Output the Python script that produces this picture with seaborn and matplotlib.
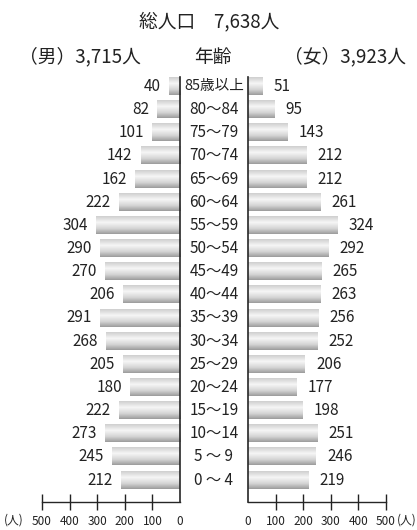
import matplotlib
matplotlib.use("Agg")
import matplotlib.pyplot as plt
import numpy as np
import pandas as pd
import seaborn as sns
from matplotlib.colors import LinearSegmentedColormap

ages = ["85歳以上", "80～84", "75～79", "70～74", "65～69", "60～64", "55～59",
        "50～54", "45～49", "40～44", "35～39", "30～34", "25～29", "20～24",
        "15～19", "10～14", "5 ～ 9", "0 ～ 4"]
male = [40, 82, 101, 142, 162, 222, 304, 290, 270, 206, 291, 268, 205, 180, 222, 273, 245, 212]
female = [51, 95, 143, 212, 212, 261, 324, 292, 265, 263, 256, 252, 206, 177, 198, 251, 246, 219]
ticks = [0, 100, 200, 300, 400, 500]

sns.set_style("white")
plt.rcParams["font.family"] = ["Noto Sans CJK JP", "DejaVu Sans"]

df = pd.DataFrame({"age": ages, "male": male, "female": female})

W, H = 417, 530
fig = plt.figure(figsize=(W / 100, H / 100), dpi=100)

top_px, bot_px = 77, 502
ylim = (17.95, -0.41)


def rect(x0, x1):
    return [x0 / W, 1 - bot_px / H, (x1 - x0) / W, (bot_px - top_px) / H]


ax_l = fig.add_axes(rect(42, 180))
ax_c = fig.add_axes(rect(180, 248))
ax_r = fig.add_axes(rect(248, 386))

grad = LinearSegmentedColormap.from_list(
    "bar", [(0, "#cfcfcf"), (0.35, "#f6f6f6"), (0.7, "#d4d4d4"), (1, "#9c9c9c")])
grad_img = np.linspace(0, 1, 64).reshape(-1, 1)


def draw_side(ax, col, inverted):
    sns.barplot(data=df, y="age", x=col, orient="h", width=0.74, ax=ax,
                color="#dddddd", linewidth=0)
    for p in ax.patches:
        x0, y0 = p.get_x(), p.get_y()
        w, h = p.get_width(), p.get_height()
        ax.imshow(grad_img, cmap=grad, aspect="auto", origin="upper",
                  extent=(x0, x0 + w, y0 + h, y0), clip_path=p, zorder=2)
        p.set_alpha(0)
    for i, v in enumerate(df[col]):
        ax.annotate(str(v), (v, i), xytext=(-6 if inverted else 8, 0),
                    textcoords="offset points", va="center",
                    ha="right" if inverted else "left", fontsize=11, color="#222222")
    ax.set_xlim((500, 0) if inverted else (0, 500))
    ax.set_ylim(*ylim)
    ax.set_xticks(ticks)
    ax.set_xticklabels([str(t) for t in ticks], fontsize=8.5, color="#222222")
    ax.set_yticks([])
    ax.set_xlabel("")
    ax.set_ylabel("")
    ax.tick_params(axis="x", direction="inout", length=11, width=1.0, pad=4,
                   bottom=True, color="#222222")
    ax.xaxis.get_major_ticks()[0].tick1line.set_visible(False)
    for s in ax.spines.values():
        s.set_visible(False)
    ax.spines["bottom"].set_visible(True)
    ax.spines["bottom"].set_linewidth(1.0)
    side = "right" if inverted else "left"
    ax.spines[side].set_visible(True)
    ax.spines[side].set_linewidth(1.2)
    ax.patch.set_alpha(0)


draw_side(ax_l, "male", True)
draw_side(ax_r, "female", False)

ax_c.set_ylim(*ylim)
ax_c.set_xlim(0, 1)
ax_c.axis("off")
for i, a in enumerate(ages):
    ax_c.text(0.5, i, a, ha="center", va="center", fontsize=10.5 if i == 0 else 11,
              color="#222222")

fig.text(209 / W, 1 - 22 / H, "総人口　7,638人", ha="center", va="center", fontsize=13.5, color="#222222")
fig.text(80 / W, 1 - 57 / H, "（男）3,715人", ha="center", va="center", fontsize=13.5, color="#222222")
fig.text(213 / W, 1 - 57 / H, "年齢", ha="center", va="center", fontsize=13.5, color="#222222")
fig.text(345 / W, 1 - 57 / H, "（女）3,923人", ha="center", va="center", fontsize=13.5, color="#222222")
fig.text(14 / W, 1 - 520 / H, "(人)", ha="center", va="center", fontsize=8.5, color="#222222")
fig.text(407 / W, 1 - 520 / H, "(人)", ha="center", va="center", fontsize=8.5, color="#222222")

fig.savefig("out.png", dpi=100)
